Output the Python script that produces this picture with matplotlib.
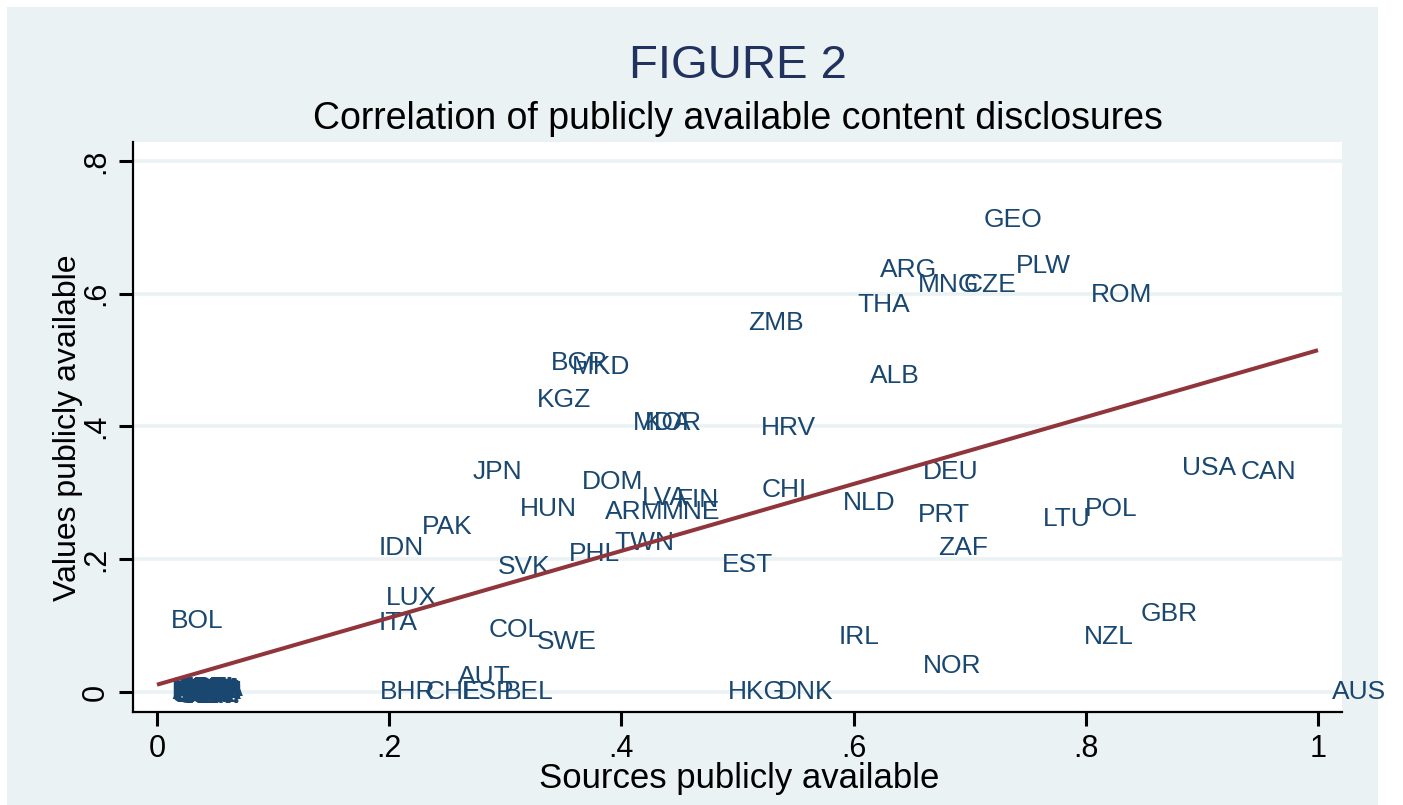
import matplotlib
matplotlib.use("Agg")
import matplotlib.pyplot as plt
from matplotlib.patches import Rectangle

# ---------------- data ----------------
countries = ["GEO", "ARG", "MNG", "CZE", "PLW", "ROM", "THA", "ALB", "ZMB", "HRV",
             "BGR", "MKD", "KGZ", "MDA", "KOR", "JPN", "DOM", "HUN", "ARM", "MNE",
             "LVA", "FIN", "PAK", "IDN", "SVK", "PHL", "TWN", "EST", "CHI", "NLD",
             "DEU", "PRT", "ZAF", "LTU", "POL", "USA", "CAN", "GBR", "NZL", "IRL",
             "NOR", "HKG", "DNK", "AUS", "BOL", "LUX", "ITA", "COL", "SWE", "AUT",
             "BHR", "CHE", "ESP", "BEL"]
sources = [0.700, 0.611, 0.643, 0.683, 0.728, 0.792, 0.591, 0.602, 0.497, 0.508,
           0.327, 0.345, 0.315, 0.398, 0.408, 0.260, 0.354, 0.301, 0.374, 0.423,
           0.406, 0.436, 0.216, 0.179, 0.282, 0.343, 0.382, 0.475, 0.509, 0.579,
           0.648, 0.643, 0.661, 0.751, 0.787, 0.871, 0.921, 0.835, 0.786, 0.575,
           0.648, 0.480, 0.523, 1.000, 0.000, 0.185, 0.179, 0.274, 0.315, 0.247,
           0.180, 0.219, 0.251, 0.287]
values = [0.711, 0.636, 0.613, 0.613, 0.642, 0.598, 0.583, 0.476, 0.556, 0.398,
          0.496, 0.490, 0.440, 0.405, 0.405, 0.331, 0.316, 0.276, 0.271, 0.271,
          0.292, 0.289, 0.249, 0.217, 0.188, 0.208, 0.224, 0.191, 0.304, 0.285,
          0.331, 0.267, 0.217, 0.261, 0.276, 0.338, 0.331, 0.118, 0.083, 0.083,
          0.039, 0.000, 0.000, 0.000, 0.107, 0.142, 0.104, 0.093, 0.075, 0.023,
          0.000, 0.000, 0.000, 0.000]

# countries overlapping at the origin (unreadable blob)
zero_countries = ["AGO", "AZE", "BFA", "CMR", "EGY", "KHM", "NGA", "SAU", "TCD", "VNM",
                  "YEM", "ZWE", "MWI", "NER", "MAR", "KAZ", "SEN", "UGA", "TUR", "MOZ"]
zero_sources = [0.000, 0.002, 0.004, 0.006, 0.008, 0.010, 0.012, 0.001, 0.005, 0.009,
                0.011, 0.003, 0.007, 0.013, 0.000, 0.012, 0.006, 0.002, 0.010, 0.004]
zero_values = [0.000, 0.004, -0.004, 0.002, -0.002, 0.000, 0.004, -0.004, 0.006, -0.006,
               0.002, -0.002, 0.006, 0.000, 0.005, -0.005, -0.006, 0.006, 0.003, -0.003]

# fitted line endpoints
fit_x = [0.0, 1.0]
fit_y = [0.011, 0.515]

x_ticks = [0, 0.2, 0.4, 0.6, 0.8, 1.0]
x_tick_labels = ["0", ".2", ".4", ".6", ".8", "1"]
y_ticks = [0, 0.2, 0.4, 0.6, 0.8]
y_tick_labels = ["0", ".2", ".4", ".6", ".8"]

# ---------------- style ----------------
plt.rcParams['font.family'] = ['Liberation Sans', 'DejaVu Sans']
W, H = 1403, 805
fig = plt.figure(figsize=(W / 100, H / 100), dpi=100)
fig.patch.set_facecolor("white")
fig.patches.append(Rectangle((7 / W, 0), (1378 - 7) / W, (805 - 7) / H,
                             transform=fig.transFigure, facecolor="#EAF2F3",
                             edgecolor="none", zorder=-10))

ax = fig.add_axes([133 / W, (H - 712) / H, (1342 - 133) / W, (712 - 142) / H])
ax.set_facecolor("white")
ax.set_xlim((133 - 157) / 1161, (1342 - 157) / 1161)
ax.set_ylim((692 - 712) / 663.75, (692 - 142) / 663.75)

for yv in y_ticks:
    ax.axhline(yv, color="#EAF2F3", lw=2.6, zorder=0)

label_color = "#1A476F"
for name, xv, yv in zip(zero_countries, zero_sources, zero_values):
    ax.annotate(name, (xv, yv), xytext=(10, 0), textcoords="offset points",
                ha="left", va="center", fontsize=19, color=label_color,
                fontweight="bold", annotation_clip=False, zorder=3)
for name, xv, yv in zip(countries, sources, values):
    ax.annotate(name, (xv, yv), xytext=(10, 0), textcoords="offset points",
                ha="left", va="center", fontsize=19, color=label_color,
                annotation_clip=False, zorder=3)

ax.plot(fit_x, fit_y, color="#90353B", lw=2.9, solid_capstyle="butt", zorder=4)

for s in ["top", "right"]:
    ax.spines[s].set_visible(False)
for s in ["left", "bottom"]:
    ax.spines[s].set_linewidth(1.6)
    ax.spines[s].set_color("black")

ax.set_xticks(x_ticks)
ax.set_xticklabels(x_tick_labels)
ax.set_yticks(y_ticks)
ax.set_yticklabels(y_tick_labels, rotation=90, va="center")
ax.tick_params(axis="both", direction="out", length=10, width=2.2,
               labelsize=22, pad=6, colors="black")

fig.text(737.5 / W, 1 - 66 / H, "FIGURE 2", ha="center", va="center",
         fontsize=34, color="#22325F")
fig.text(737.5 / W, 1 - 119 / H, "Correlation of publicly available content disclosures",
         ha="center", va="center", fontsize=27, color="black")
fig.text(739 / W, 1 - 778 / H, "Sources publicly available", ha="center", va="center",
         fontsize=25, color="black")
fig.text(68 / W, 1 - 428 / H, "Values publicly available", ha="center", va="center",
         rotation=90, fontsize=23, color="black")

fig.savefig("out.png", dpi=100, facecolor=fig.get_facecolor())
